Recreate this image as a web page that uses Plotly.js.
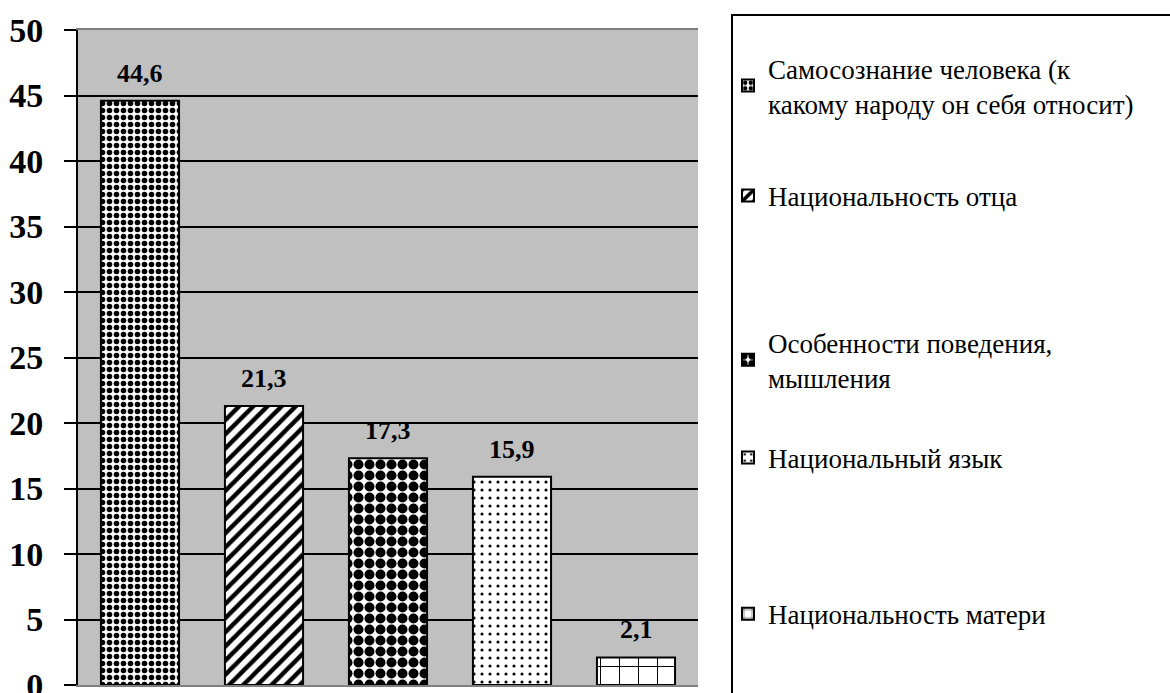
<!DOCTYPE html>
<html><head><meta charset="utf-8">
<script src="https://cdn.plot.ly/plotly-3.0.1.min.js"></script>
</head><body style="margin:0;padding:0;background:#fff;">
<div id="chart" style="width:1170px;height:693px;"></div>
<script>
const categories = ["Самосознание человека (к<br>какому народу он себя относит)", "Национальность отца", "Особенности поведения,<br>мышления", "Национальный язык", "Национальность матери"];
const values = [44.6, 21.3, 17.3, 15.9, 2.1];
const yTicks = [0, 5, 10, 15, 20, 25, 30, 35, 40, 45, 50];

const SERIF = "Liberation Serif";

const patterns = [
  {shape: ".", size: 7, solidity: 0.5},
  {shape: "/", size: 10, solidity: 0.45},
  {shape: ".", size: 11, solidity: 0.65},
  {shape: ".", size: 8, solidity: 0.12},
  {shape: "+", size: 19, solidity: 0.1}
];
const legendNames = ["legend", "legend2", "legend3", "legend4", "legend5"];
const legendY = [0.9145, 0.7466, 0.496, 0.3466, 0.108];

const traces = categories.map((c, i) => ({
  type: "bar",
  x: [i],
  y: [values[i]],
  name: c,
  width: 0.63,
  legend: legendNames[i],
  marker: {
    color: "#ffffff",
    line: {color: "#000", width: 2},
    pattern: Object.assign({fgcolor: "#000", bgcolor: "#fff", fgopacity: 1, fillmode: "replace"}, patterns[i])
  },
  hoverinfo: "skip"
}));

const annotations = values.map((v, i) => ({
  x: i, y: v, xref: "x", yref: "y",
  text: "<b>" + v.toFixed(1).replace(".", ",") + "</b>",
  showarrow: false, yanchor: "bottom", yshift: 11,
  font: {family: SERIF, size: 26, color: "#000"}
}));

const layout = {
  width: 1170, height: 693,
  margin: {l: 78, r: 472, t: 30, b: 8},
  paper_bgcolor: "#ffffff",
  plot_bgcolor: "#c0c0c0",
  barmode: "overlay",
  showlegend: true,
  font: {family: SERIF, color: "#000"},
  xaxis: {
    range: [-0.5, 4.5], showticklabels: false, ticks: "", showgrid: false,
    zeroline: false, showline: true, linecolor: "#808080", linewidth: 2, mirror: true, fixedrange: true
  },
  yaxis: {
    range: [0, 50], tickvals: yTicks, ticktext: yTicks.map(t => "<b>" + t + "</b>"),
    ticks: "outside", ticklen: 12, tickwidth: 2, tickcolor: "#000",
    showgrid: true, gridcolor: "#000", gridwidth: 1.5,
    zeroline: false, showline: true, linecolor: "#000", linewidth: 2,
    tickfont: {family: SERIF, size: 34, color: "#000"},
    ticklabelstandoff: 14, ticklabeloverflow: "allow"
  },
  annotations: annotations,
  shapes: [{
    type: "rect", xref: "paper", yref: "paper",
    x0: (732 - 78) / 620, x1: (1180 - 78) / 620,
    y0: (685 - 705) / 655, y1: (685 - 15) / 655,
    line: {color: "#000", width: 2}, fillcolor: "rgba(0,0,0,0)", layer: "below"
  }]
};
legendNames.forEach((ln, i) => {
  layout[ln] = {
    x: (728 - 78) / 620, xanchor: "left",
    y: legendY[i], yanchor: "middle",
    bgcolor: "rgba(0,0,0,0)", borderwidth: 0,
    font: {family: SERIF, size: 27, color: "#000"},
    itemclick: false, itemdoubleclick: false
  };
});

Plotly.newPlot("chart", traces, layout, {displayModeBar: false});
</script></body></html>
